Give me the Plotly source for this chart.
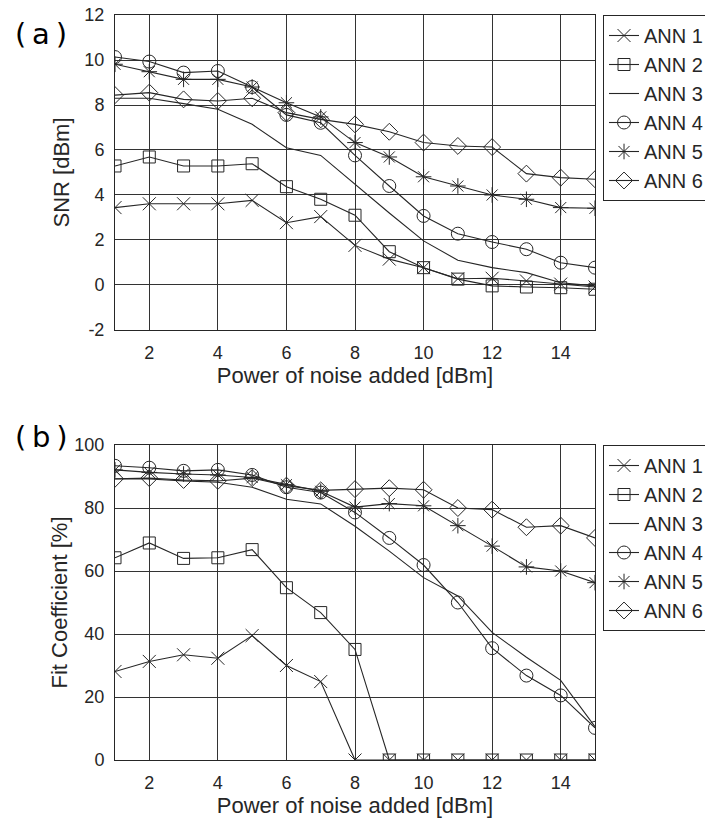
import plotly.graph_objects as go

x_noise = list(range(1, 16))
names = ["ANN 1", "ANN 2", "ANN 3", "ANN 4", "ANN 5", "ANN 6"]

snr_ann1 = [3.44, 3.61, 3.61, 3.61, 3.76, 2.77, 3.04, 1.76, 1.15, 0.77, 0.28, 0.3, 0.18, 0.04, -0.09]
snr_ann2 = [5.29, 5.69, 5.29, 5.29, 5.39, 4.37, 3.81, 3.10, 1.48, 0.77, 0.26, -0.04, -0.09, -0.12, -0.19]
snr_ann3 = [8.30, 8.30, 8.06, 7.81, 7.14, 6.10, 5.76, 4.47, 3.20, 1.96, 1.10, 0.77, 0.55, 0.10, -0.04]
snr_ann4 = [10.13, 9.93, 9.44, 9.51, 8.80, 7.56, 7.21, 5.76, 4.40, 3.07, 2.28, 1.91, 1.59, 0.99, 0.77]
snr_ann5 = [9.81, 9.48, 9.14, 9.14, 8.80, 8.10, 7.47, 6.33, 5.69, 4.81, 4.40, 4.00, 3.81, 3.44, 3.41]
snr_ann6 = [8.44, 8.55, 8.25, 8.18, 8.30, 7.66, 7.36, 7.14, 6.81, 6.33, 6.18, 6.13, 4.95, 4.77, 4.70]

fit_ann1 = [28.1, 31.3, 33.4, 32.3, 39.5, 30.0, 24.9, 0, 0, 0, 0, 0, 0, 0, 0]
fit_ann2 = [64.2, 68.9, 64.0, 64.2, 66.8, 54.7, 46.8, 35.1, 0, 0, 0, 0, 0, 0, 0]
fit_ann3 = [89.2, 89.2, 88.6, 88.2, 86.6, 82.8, 81.3, 74.2, 66.3, 57.9, 52.1, 40.5, 32.6, 25.3, 10.6]
fit_ann4 = [93.4, 92.8, 91.8, 92.1, 90.5, 86.6, 84.9, 78.6, 70.5, 61.9, 50.0, 35.5, 26.8, 20.5, 10.2]
fit_ann5 = [92.1, 91.3, 90.8, 90.5, 89.7, 87.4, 85.3, 80.3, 81.4, 80.7, 74.4, 67.9, 61.3, 60.0, 56.3]
fit_ann6 = [89.3, 89.5, 88.9, 88.6, 89.5, 87.1, 85.6, 86.0, 86.3, 85.8, 80.0, 79.5, 73.9, 74.4, 70.5]

x_ticks = [2, 4, 6, 8, 10, 12, 14]
snr_ticks = [-2, 0, 2, 4, 6, 8, 10, 12]
snr_tick_labels = ["-2", "0", "2", "4", "6", "8", "10", "12"]
fit_ticks = [0, 20, 40, 60, 80, 100]

snr_series = [snr_ann1, snr_ann2, snr_ann3, snr_ann4, snr_ann5, snr_ann6]
fit_series = [fit_ann1, fit_ann2, fit_ann3, fit_ann4, fit_ann5, fit_ann6]

INK = "#262626"
FONT = "Arial, Liberation Sans, sans-serif"
symbols = ["x-thin-open", "square-open", None, "circle-open", "asterisk-open", "diamond-open"]
sizes = [13, 12, 0, 13, 13, 13]

fig = go.Figure()

for series, yax, xax, leg in [(snr_series, "y", "x", "legend"),
                              (fit_series, "y2", "x2", "legend2")]:
    for i, (nm, vals) in enumerate(zip(names, series)):
        mode = "lines" if symbols[i] is None else "lines+markers"
        marker = dict(color=INK, line=dict(color=INK, width=1))
        if symbols[i] is not None:
            marker.update(symbol=symbols[i], size=sizes[i])
        fig.add_trace(go.Scatter(
            x=x_noise, y=vals, name=nm, mode=mode,
            line=dict(color=INK, width=1.1),
            marker=marker,
            xaxis=xax, yaxis=yax, legend=leg,
        ))

base = dict(
    showline=True, linecolor=INK, linewidth=1, mirror=True,
    showgrid=True, gridcolor="#333333", gridwidth=1, zeroline=False,
    ticks="", ticklabelstandoff=6,
    tickfont=dict(family=FONT, size=18, color=INK),
)
title_font = dict(family=FONT, size=22, color=INK)

fig.update_layout(
    width=705, height=823,
    margin=dict(l=115, r=110, t=15, b=63, autoexpand=False),
    paper_bgcolor="white", plot_bgcolor="white",
    font=dict(family=FONT, color=INK),
    xaxis=dict(**base, range=[1, 15], anchor="y", tickvals=x_ticks,
               title=dict(text="Power of noise added [dBm]", font=title_font, standoff=6)),
    yaxis=dict(**base, domain=[0.5772, 1.0], range=[-2, 12], anchor="x",
               tickvals=snr_ticks, ticktext=snr_tick_labels,
               title=dict(text="SNR [dBm]", font=title_font, standoff=8)),
    xaxis2=dict(**base, range=[1, 15], anchor="y2", tickvals=x_ticks,
                title=dict(text="Power of noise added [dBm]", font=title_font, standoff=6)),
    yaxis2=dict(**base, domain=[0.0, 0.4228], range=[0, 100], anchor="x2",
                tickvals=fit_ticks,
                title=dict(text="Fit Coefficient [%]", font=title_font, standoff=0)),
    legend=dict(x=1.0167, xanchor="left", y=1.0, yanchor="top",
                bgcolor="white", bordercolor=INK, borderwidth=1,
                font=dict(family=FONT, size=20, color=INK)),
    legend2=dict(x=1.0167, xanchor="left", y=0.4228, yanchor="top",
                 bgcolor="white", bordercolor=INK, borderwidth=1,
                 font=dict(family=FONT, size=20, color=INK)),
    annotations=[
        dict(text="(\u2009a\u2009)", x=-0.2125, y=0.9745, xref="paper", yref="paper",
             xanchor="left", yanchor="middle", showarrow=False,
             font=dict(family="DejaVu Sans", size=29, color="black")),
        dict(text="(\u2009b\u2009)", x=-0.2125, y=0.4336, xref="paper", yref="paper",
             xanchor="left", yanchor="middle", showarrow=False,
             font=dict(family="DejaVu Sans", size=29, color="black")),
    ],
    showlegend=True,
)

fig.write_html("out.html")
